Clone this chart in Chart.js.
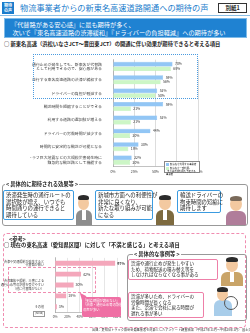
<!DOCTYPE html>
<html lang="ja">
<head>
<meta charset="utf-8">
<script src="https://cdn.jsdelivr.net/npm/chart.js@4"></script>
<style>
  html, body { margin: 0; padding: 0; background: #fff; }
  body { width: 250px; height: 333px; position: relative; overflow: hidden;
         font-family: "Noto Sans CJK JP", "Noto Sans", sans-serif; color: #222; }
  .abs { position: absolute; }
  .tag { left: 2px; top: 2px; width: 12px; height: 12px; background: #1a7ccc; color: #fff;
         font-size: 4px; line-height: 5px; text-align: center; font-weight: bold; padding-top: 1px; box-sizing: border-box; }
  .title { left: 20px; top: 1px; font-size: 8.2px; color: #1a7ccc; white-space: nowrap; letter-spacing: 0; }
  .bessi { left: 218px; top: 3px; width: 29px; height: 10px; border: 1px solid #333; box-sizing: border-box;
           font-size: 5.5px; line-height: 8px; text-align: center; font-weight: bold; }
  .rule { left: 0; top: 15px; width: 250px; height: 1px; background: #8bbfe6; }
  .banner { left: 4px; top: 18px; width: 243px; height: 20px; background: #1f82d2; border: 1px solid #7fbbe8;
            box-sizing: border-box; color: #fff; font-size: 6.2px; line-height: 7.6px; padding: 2px 0 0 6px; white-space: nowrap; }
  .head { font-size: 5.3px; font-weight: bold; white-space: nowrap; }
  .dashblue { left: 33px; top: 54px; width: 165px; height: 45px; border: 1px dotted #4a9be0; box-sizing: border-box; }
  .legend { left: 164px; top: 161px; width: 36px; height: 12px; border: 0.6px solid #888; background: #fff;
            font-size: 2.4px; line-height: 2.9px; box-sizing: border-box; padding: 1px; }
  .sw { display: inline-block; width: 3px; height: 3px; vertical-align: top; margin-right: 1px; }
  .frame { border: 1px solid #999; border-radius: 3px; box-sizing: border-box; }
  .bubble { background: #fff; border: 1px solid #3b9be0; border-radius: 2px; box-sizing: border-box;
            font-size: 5.4px; line-height: 6.6px; padding: 1px 2px; white-space: nowrap; }
  .pbubble { background: #fff; border: 1px solid #ee7fa8; border-radius: 2px; box-sizing: border-box;
             font-size: 4.5px; line-height: 5.6px; padding: 1px 2px; white-space: nowrap; }
  .pinkframe { left: 3px; top: 233px; width: 243px; height: 95px; border: 1px dashed #f08cb0; border-radius: 4px; box-sizing: border-box; }
  .pdash { left: 8px; top: 267px; width: 88px; height: 26px; border: 0.8px dashed #f08cb0; box-sizing: border-box; }
  .callout { left: 82px; top: 297px; width: 39px; height: 20px; background: #ef6fa4; border-radius: 2px;
             color: #fff; font-size: 3.3px; line-height: 4.4px; padding: 2px 1px; box-sizing: border-box; white-space: nowrap; }
  .nbox { font-size: 2.6px; border: 0.5px solid #999; padding: 0 1px; line-height: 3.6px; }
  .foot { left: 92px; top: 327px; font-size: 3.2px; white-space: nowrap; color: #333; }
  .head-c { border-radius: 50%; background: #f3c9a0; }
  .hair { background: #2b2b2b; border-radius: 50% 50% 20% 20%; }
  canvas { position: absolute; }
</style>
</head>
<body>
<div class="abs tag">期待<br>の声</div>
<div class="abs title">物流事業者からの新東名高速道路開通への期待の声</div>
<div class="abs bessi">別紙1</div>
<div class="abs rule"></div>
<div class="abs banner">『代替路がある安心感』に最も期待が多く、<br>&nbsp;次いで『東名高速道路の渋滞緩和』『ドライバーの負担軽減』への期待が多い</div>
<div class="abs head" style="left:4px;top:40px;">○ 新東名高速（浜松いなさJCT～豊田東JCT）の開通に伴い効果が期待できると考える項目</div>

<canvas id="chart1" width="176" height="125" style="left:30px;top:52px;width:176px;height:125px;"></canvas>
<div class="abs dashblue"></div>
<div class="abs legend">
  <div><span class="sw" style="background:#92c6f5"></span>新東名を利用する事業者</div>
  <div style="margin-top:1px"><span class="sw" style="background:#ccf6c6"></span>新東名を一部利用、<br>&nbsp;&nbsp;または今後利用を予定する事業者</div>
</div>

<!-- 具体的に期待される効果等 -->
<div class="abs frame" style="left:2px;top:184px;width:246px;height:42px;"></div>
<div class="abs head" style="left:5px;top:180px;background:#fff;padding:0 1px;">&lt; 具体的に期待される効果等 &gt;</div>
<div class="abs bubble" style="left:3px;top:190px;width:71px;height:30px;">渋滞発生時の通行ルートの<br>選択肢が増え、いつでも<br>時間通りの運行できると<br>期待している</div>
<div class="abs bubble" style="left:95px;top:190px;width:58px;height:30px;">新城市方面への利便性が<br>非常に良くなり、<br>新たな取り組みが可能<br>になる</div>
<div class="abs bubble" style="left:177px;top:190px;width:44px;height:23px;">輸送ドライバーの<br>拘束時間の短縮に<br>期待します</div>
<!-- people -->
<div class="abs" style="left:76px;top:210px;width:16px;height:15px;background:#8d8d8d;border-radius:6px 6px 0 0;"></div>
<div class="abs" style="left:82px;top:210px;width:4px;height:10px;background:#fff;"></div>
<div class="abs head-c" style="left:78px;top:196px;width:11px;height:14px;"></div>
<div class="abs hair" style="left:78px;top:195px;width:11px;height:5px;"></div>
<div class="abs" style="left:156px;top:210px;width:18px;height:15px;background:#7d6a3f;border-radius:6px 6px 0 0;"></div>
<div class="abs" style="left:163px;top:210px;width:4px;height:10px;background:#fff;"></div>
<div class="abs head-c" style="left:159px;top:196px;width:12px;height:14px;"></div>
<div class="abs hair" style="left:159px;top:195px;width:12px;height:5px;"></div>
<div class="abs" style="left:226px;top:211px;width:20px;height:14px;background:#b07d9a;border-radius:6px 6px 0 0;"></div>
<div class="abs head-c" style="left:230px;top:197px;width:12px;height:14px;"></div>
<div class="abs hair" style="left:230px;top:196px;width:12px;height:5px;background:#7a6a5a;"></div>

<!-- 参考 -->
<div class="abs pinkframe"></div>
<div class="abs head" style="left:9px;top:235px;">&lt;参考&gt;</div>
<div class="abs head" style="left:4px;top:241px;">○ 現在の東名高速（愛知県区間）に対して「不満と感じる」と考える項目</div>
<canvas id="chart2" width="125" height="69" style="left:0px;top:253px;width:125px;height:69px;"></canvas>
<div class="abs pdash"></div>
<div class="abs nbox" style="left:33px;top:311px;">(N=40)</div>
<div class="abs" style="left:79px;top:292px;width:0;height:0;border-left:3px solid transparent;border-right:3px solid transparent;border-bottom:7px solid #ef6fa4;transform:rotate(-40deg);"></div>
<div class="abs callout">「到着時間が読めない」<br>「渋滞・通行止め等の影響」<br>の声が多い</div>

<div class="abs frame" style="left:127px;top:254px;width:120px;height:67px;"></div>
<div class="abs head" style="left:133px;top:250px;background:#fff;padding:0 1px;">&lt; 具体的な事例等 &gt;</div>
<div class="abs pbubble" style="left:128px;top:259px;width:90px;height:21px;">渋滞や通行止めが発生しやすい<br>ため、荷物配送の積み替え等を<br>しなければならなくなる事がある</div>
<div class="abs pbubble" style="left:128px;top:292px;width:76px;height:26px;">渋滞が多いため、ドライバーの<br>労働時間が長くなる<br>また、渋滞で会社に戻る時間が<br>遅れる事が多い</div>
<div class="abs" style="left:221px;top:272px;width:22px;height:14px;background:#c9a468;border-radius:6px 6px 0 0;"></div>
<div class="abs" style="left:230px;top:272px;width:4px;height:10px;background:#fff;"></div>
<div class="abs head-c" style="left:226px;top:258px;width:12px;height:14px;"></div>
<div class="abs hair" style="left:226px;top:257px;width:12px;height:5px;"></div>
<div class="abs" style="left:214px;top:300px;width:18px;height:16px;background:#a8cdea;border-radius:6px 6px 0 0;"></div>
<div class="abs head-c" style="left:217px;top:288px;width:11px;height:13px;"></div>
<div class="abs hair" style="left:217px;top:287px;width:11px;height:5px;"></div>
<div class="abs" style="left:224px;top:296px;width:14px;height:14px;border:1.5px solid #555;border-radius:50%;box-sizing:border-box;"></div>

<div class="abs foot">出典：愛知県トラック協会会員事業者を対象としたアンケート調査結果（平成27年11月～平成28年1月） 国土交通省</div>

<script>
// 新東名開通で期待される効果（8項目）
const effectLabels = [
  ["通行止めが発生しても、新東名が代替路", "として利用できるので、安心感がある"],
  "並行する東名高速道路の渋滞が緩和する",
  "ドライバーの負担が軽減する",
  "輸送時間を短縮することができる",
  "利用する道路の選択肢が増える",
  "ドライバーの労働時間が減少する",
  "時間的に安定的な輸送が可能となる",
  ["南海トラフ巨大地震などの大規模災害発生時に", "緊急的な輸送路として機能する"]
];
const useShinTomei = [70, 59, 52, 59, 52, 44, 30, 22];
const partialUse = [68, 56, 50, 21, 21, 20, 18, 20];
const effectTicks = [0, 25, 50, 75, 100];

// 現在の東名高速（愛知県区間）への不満
const complaintLabels = [
  ["渋滞や交通規制が発生すると", "代替路が無い"],
  ["到着時間が読めない", "（所要時間が安定しない）"],
  ["渋滞事故や規制、災害による", "通行止め等の影響を受けやすい", "（他に代替路がない）"],
  "ドライバーの負担が大きい",
  "その他"
];
const complaintValues = [97, 42, 30, 18, 3];
const complaintTicks = [0, 20, 40, 60, 80, 100];

const FONT = '"Noto Sans CJK JP", "Noto Sans", sans-serif';

// バーの右に％ラベル
const valueLabels = {
  id: 'valueLabels',
  afterDatasetsDraw(chart, args, opts) {
    const ctx = chart.ctx;
    ctx.save();
    ctx.fillStyle = '#333';
    ctx.textBaseline = 'middle';
    chart.data.datasets.forEach((ds, i) => {
      chart.getDatasetMeta(i).data.forEach((bar, j) => {
        const bold = opts.boldFirst && j === 0;
        ctx.font = (bold ? 'bold ' : '') + opts.size + 'px ' + FONT;
        ctx.fillText(ds.data[j] + '%', bar.x + opts.gap, bar.y);
      });
    });
    ctx.restore();
  }
};

new Chart(document.getElementById('chart1'), {
  type: 'bar',
  data: {
    labels: effectLabels,
    datasets: [
      { data: useShinTomei, backgroundColor: '#92c6f5', borderColor: '#6fb0ee', borderWidth: 0.4, barPercentage: 1, categoryPercentage: 0.68 },
      { data: partialUse, backgroundColor: '#ccf6c6', borderColor: '#a9e6a1', borderWidth: 0.4, barPercentage: 1, categoryPercentage: 0.68 }
    ]
  },
  options: {
    indexAxis: 'y',
    responsive: false,
    animation: false,
    devicePixelRatio: 1,
    layout: { padding: { top: 3, right: 8, left: 0, bottom: 0 } },
    plugins: { legend: { display: false }, tooltip: { enabled: false },
               valueLabels: { size: 3.4, gap: 2.5 } },
    scales: {
      x: {
        min: 0, max: 100,
        afterBuildTicks: s => { s.ticks = effectTicks.map(v => ({ value: v })); },
        ticks: { callback: v => v + '%', font: { size: 3.5, family: FONT }, color: '#444', padding: 3, maxRotation: 0 },
        grid: { color: '#bbb', lineWidth: 0.5, drawTicks: false },
        border: { color: '#999', width: 0.6 }
      },
      y: {
        afterFit: s => { s.width = 83; },
        ticks: { font: { size: 3.9, family: FONT }, color: '#444', padding: 3 },
        grid: { display: false },
        border: { color: '#999', width: 0.6 }
      }
    }
  },
  plugins: [valueLabels]
});

new Chart(document.getElementById('chart2'), {
  type: 'bar',
  data: {
    labels: complaintLabels,
    datasets: [
      { data: complaintValues, backgroundColor: '#f4a7bb', borderWidth: 0, barPercentage: 1, categoryPercentage: 0.45 }
    ]
  },
  options: {
    indexAxis: 'y',
    responsive: false,
    animation: false,
    devicePixelRatio: 1,
    layout: { padding: { top: 3, right: 8, left: 0, bottom: 0 } },
    plugins: { legend: { display: false }, tooltip: { enabled: false },
               valueLabels: { size: 3.6, gap: 2, boldFirst: true } },
    scales: {
      x: {
        min: 0, max: 100,
        afterBuildTicks: s => { s.ticks = complaintTicks.map(v => ({ value: v })); },
        ticks: { callback: v => v + '%', font: { size: 3.2, family: FONT }, color: '#444', padding: 3, maxRotation: 0 },
        grid: { color: '#ccc', lineWidth: 0.5, drawTicks: false },
        border: { color: '#999', width: 0.6 }
      },
      y: {
        afterFit: s => { s.width = 55; },
        ticks: { font: { size: 3.1, family: FONT }, color: '#444', padding: 3 },
        grid: { display: false },
        border: { color: '#999', width: 0.6 }
      }
    }
  },
  plugins: [valueLabels]
});
</script>
</body>
</html>
